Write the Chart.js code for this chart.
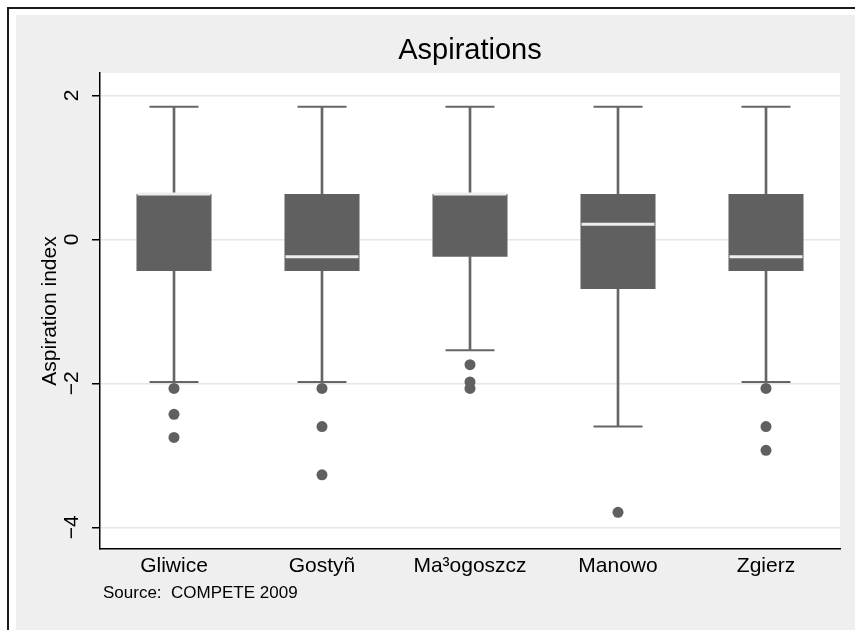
<!DOCTYPE html>
<html>
<head>
<meta charset="utf-8">
<script src="https://cdn.jsdelivr.net/npm/chart.js@4"></script>
<style>
html,body{margin:0;padding:0;background:#fff;width:855px;height:631px;overflow:hidden;}
#frame{position:absolute;left:7px;top:7px;width:848px;height:623px;border-top:2px solid #1a1a1a;border-left:2px solid #1a1a1a;box-sizing:border-box;}
#bg{position:absolute;left:16px;top:15px;width:839px;height:615px;background:#efefef;}
#wrap{position:absolute;left:0;top:0;width:855px;height:631px;}
#source{position:absolute;left:103px;top:584px;font-family:"Liberation Sans",Arial,Helvetica,sans-serif;font-size:17px;line-height:17px;color:#000;white-space:pre;}
</style>
</head>
<body>
<div id="frame"></div>
<div id="bg"></div>
<div id="wrap"><canvas id="c" width="855" height="631"></canvas></div>
<div id="source">Source:  COMPETE 2009</div>
<script>
// ---- data ----
const categories = ['Gliwice', 'Gostyñ', 'Ma³ogoszcz', 'Manowo', 'Zgierz'];
const upperWhisker = [1.84, 1.84, 1.84, 1.84, 1.84];
const upperQuartile = [0.63, 0.63, 0.63, 0.63, 0.63];
const medians = [0.63, -0.24, 0.63, 0.21, -0.24];
const lowerQuartile = [-0.44, -0.44, -0.24, -0.69, -0.44];
const lowerWhisker = [-1.98, -1.98, -1.54, -2.60, -1.98];
const outliers = [
  [-2.07, -2.43, -2.75],
  [-2.07, -2.60, -3.27],
  [-1.74, -1.98, -2.07],
  [-3.79],
  [-2.07, -2.60, -2.93]
];
const yTickValues = [-4, -2, 0, 2];
const yTickLabels = ['\u22124', '\u22122', '0', '2'];
const titleText = 'Aspirations';
const yAxisTitle = 'Aspiration index';

// ---- build datasets from the arrays ----
const boxData = categories.map((c, i) => [lowerQuartile[i], upperQuartile[i]]);
const lowerWhiskerData = categories.map((c, i) => [lowerWhisker[i], lowerQuartile[i]]);
const upperWhiskerData = categories.map((c, i) => [upperQuartile[i], upperWhisker[i]]);
const outlierPoints = [];
outliers.forEach((arr, i) => arr.forEach(v => outlierPoints.push({x: categories[i], y: v})));

const FONT = '"Liberation Sans", Arial, Helvetica, sans-serif';
Chart.defaults.font.family = FONT;
Chart.defaults.color = '#000';

const BOX = '#606060';
const WHISK = '#666666';

const plotBg = {
  id: 'plotBg',
  beforeDraw(chart) {
    const {ctx, chartArea: a} = chart;
    ctx.save();
    ctx.fillStyle = '#ffffff';
    ctx.fillRect(a.left, a.top, a.right - a.left, a.bottom - a.top);
    ctx.restore();
  }
};

const rotatedYLabels = {
  id: 'rotatedYLabels',
  afterDraw(chart) {
    const {ctx, chartArea: a} = chart;
    const ys = chart.scales.y;
    ctx.save();
    ctx.font = '21px ' + FONT;
    ctx.fillStyle = '#000';
    ctx.textAlign = 'center';
    ctx.textBaseline = 'middle';
    yTickValues.forEach((v, i) => {
      const py = ys.getPixelForValue(v);
      ctx.save();
      ctx.translate(a.left - 27.4, py);
      ctx.rotate(-Math.PI / 2);
      ctx.fillText(yTickLabels[i], 0, 0);
      ctx.restore();
    });
    ctx.restore();
  }
};

new Chart(document.getElementById('c'), {
  type: 'bar',
  data: {
    labels: categories,
    datasets: [
      {
        type: 'line', label: 'Median', data: medians,
        showLine: false, pointStyle: 'line', pointRadius: 36.5,
        pointBorderWidth: 3, pointBorderColor: '#eeeeee', pointBackgroundColor: '#eeeeee'
      },
      {
        type: 'line', label: 'Outliers', data: outlierPoints,
        showLine: false, pointStyle: 'circle', pointRadius: 5.5,
        pointBorderWidth: 0, pointBackgroundColor: BOX, pointBorderColor: BOX
      },
      {
        type: 'line', label: 'Upper adjacent', data: upperWhisker,
        showLine: false, pointStyle: 'line', pointRadius: 24.5,
        pointBorderWidth: 2, pointBorderColor: WHISK
      },
      {
        type: 'line', label: 'Lower adjacent', data: lowerWhisker,
        showLine: false, pointStyle: 'line', pointRadius: 24.5,
        pointBorderWidth: 2, pointBorderColor: WHISK
      },
      {
        type: 'bar', label: 'IQR', data: boxData, grouped: false,
        backgroundColor: BOX, borderWidth: 0,
        categoryPercentage: 1, barPercentage: 0.507
      },
      {
        type: 'bar', label: 'Upper whisker', data: upperWhiskerData, grouped: false,
        backgroundColor: WHISK, borderWidth: 0, barThickness: 2
      },
      {
        type: 'bar', label: 'Lower whisker', data: lowerWhiskerData, grouped: false,
        backgroundColor: WHISK, borderWidth: 0, barThickness: 2
      }
    ]
  },
  options: {
    responsive: false,
    devicePixelRatio: 1,
    animation: false,
    events: [],
    layout: {autoPadding: false, padding: {left: 16, right: 15, top: 15, bottom: 42}},
    plugins: {
      legend: {display: false},
      tooltip: {enabled: false},
      title: {
        display: true, text: titleText, fullSize: false,
        color: '#000', font: {size: 29, weight: 'normal'},
        padding: {top: 18.5, bottom: 4.7}
      }
    },
    scales: {
      x: {
        offset: true,
        grid: {display: false, drawTicks: false},
        border: {display: true, color: '#000', width: 1.5},
        ticks: {font: {size: 21}, color: '#000', padding: 5, maxRotation: 0, autoSkip: false},
        afterFit(s) { s.height = 40; }
      },
      y: {
        min: -4.30, max: 2.31,
        afterBuildTicks(s) { s.ticks = yTickValues.map(v => ({value: v})); },
        grid: {color: '#e6e6e6', lineWidth: 1.5, tickLength: 8, tickColor: '#000', tickWidth: 1.5, drawTicks: true},
        border: {display: true, color: '#000', width: 1.5},
        ticks: {display: false},
        title: {display: true, text: yAxisTitle, font: {size: 21}, color: '#000', padding: {top: 22, bottom: 0}},
        afterFit(s) { s.width = 84; }
      }
    }
  },
  plugins: [plotBg, rotatedYLabels]
});
</script>
</body>
</html>
